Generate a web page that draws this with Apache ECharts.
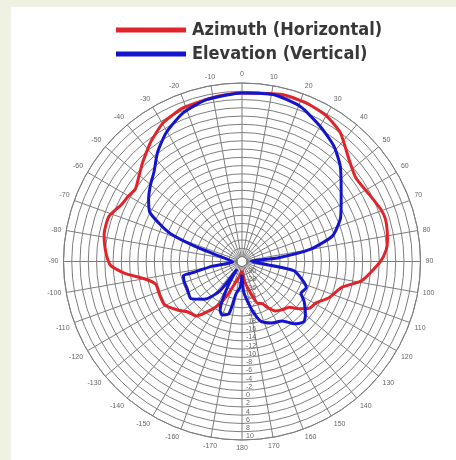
<!DOCTYPE html>
<html>
<head>
<meta charset="utf-8">
<script src="https://cdn.jsdelivr.net/npm/echarts@6/dist/echarts.min.js"></script>
<style>
html,body{margin:0;padding:0;width:456px;height:460px;background:#eff2e3;overflow:hidden;}
#panel{position:absolute;left:11px;top:7px;right:0;bottom:0;background:#ffffff;}
#chart{position:absolute;left:0;top:0;width:456px;height:460px;}
</style>
</head>
<body>
<div id="panel"></div>
<div id="chart"></div>
<script>
// Series names (legend)
var seriesNames = ['Azimuth (Horizontal)', 'Elevation (Vertical)'];

// Azimuth (Horizontal) pattern: angle in degrees (0 = top, clockwise positive), gain in dB
var azimuthAngles = [-180,-170,-163,-157,-152,-147.6,-140,-133,-127,-119,-111.6,-104.6,-100,-95.8,-91.5,-85.1,-79,-71.3,-64.5,-59.9,-55.8,-50.3,-45.1,-40,-37,-29.7,-21,-8.7,0,13.9,22.2,30.3,37.4,46.3,53.6,62.2,69.5,73.8,81.5,85.4,90,99,104.4,112.6,119.4,124.9,129.6,134.2,140,146.2,151,155,159,166,173,180];
var azimuthDb     = [-31,-29.5,-28,-24.7,-21.5,-19.4,-16,-15.3,-13.7,-11.7,-11.7,-11.6,-9.2,-4.7,-1.3,0,0.8,0.8,-1.0,-1.5,-2.0,-0.8,0.75,2.3,3.3,5.4,6.6,7.2,7.6,8.4,8.2,7.5,6.0,2.6,1.0,1.6,2.7,3.0,2.4,1.8,0.3,-3.8,-8.2,-10.4,-12.7,-13.4,-15.3,-17.3,-18,-18.8,-20.5,-22,-22.3,-25.9,-28.5,-31];

// Elevation (Vertical) pattern
var elevationAngles = [-180,-176,-169.5,-166,-159.6,-155.8,-152.5,-149,-147,-143.4,-139,-134.9,-125.9,-120,-115.8,-110,-103.7,-102.7,-99,-92,-76,-72,-69,-66,-61.9,-56.2,-50,-44.6,-37.7,-30.4,-21.6,-12.3,0,10.6,20.5,30,38.5,45.7,53.9,60,66.7,74.3,79.9,84.2,89,97,100,107.7,112.3,118.2,122.8,130.2,134.4,139.6,146.2,154.4,162.4,166.9,172.4,177,180];
var elevationDb     = [-30,-27,-25.2,-20.2,-19.4,-20.3,-23.5,-28,-31,-24.6,-22,-20.3,-17.9,-18.2,-18.4,-18.4,-18.6,-21.1,-26,-31,-27,-21,-15,-11.8,-7.9,-6.0,-4.3,-2.85,0.2,3.0,5.5,6.9,7.6,7.9,6.9,4.6,2.5,0,-3.5,-5.5,-7.3,-10.5,-16.5,-24.6,-31,-27,-20.5,-17.7,-16.4,-17.0,-15.3,-13.1,-12.3,-13.4,-15.9,-16.7,-18,-20.3,-23.6,-26,-30];

// Radial scale (dB)
var radiusMin = -32, radiusMax = 10, radiusStep = 2;
var angleStep = 10;

function toPolar(angles, db) {
  return angles.map(function (a, i) { return [db[i], a + 180]; });
}

var chart = echarts.init(document.getElementById('chart'), null, {renderer: 'canvas'});
var gridColor = '#7d7d7d';
chart.setOption({
  backgroundColor: 'transparent',
  animation: false,
  legend: {
    orient: 'vertical',
    left: 111,
    top: 16,
    itemWidth: 70,
    itemHeight: 5,
    itemGap: 6,
    icon: 'rect',
    textStyle: {
      fontFamily: '"DejaVu Sans Condensed", "Liberation Sans Narrow", sans-serif',
      fontWeight: 'bold',
      fontSize: 18,
      color: '#383838',
      padding: [0, 0, 0, 1]
    },
    data: seriesNames
  },
  polar: {
    center: [242, 261.5],
    radius: [5, 178.5]
  },
  angleAxis: {
    type: 'value',
    min: 0,
    max: 360,
    interval: angleStep,
    startAngle: -90,
    clockwise: true,
    axisLine: {show: true, lineStyle: {color: gridColor, width: 1}},
    axisTick: {show: false},
    splitLine: {show: true, lineStyle: {color: gridColor, width: 1}},
    axisLabel: {
      margin: 5,
      fontSize: 7,
      fontFamily: 'Liberation Sans, Arial, sans-serif',
      color: '#666',
      formatter: function (v) {
        if (v >= 360) return '';
        var t = v - 180;
        return t === -180 ? '180' : String(t);
      }
    }
  },
  radiusAxis: {
    type: 'value',
    min: radiusMin,
    max: radiusMax,
    interval: radiusStep,
    axisLine: {show: false},
    axisTick: {show: false},
    splitLine: {show: true, lineStyle: {color: gridColor, width: 1}},
    axisLabel: {
      fontSize: 7,
      margin: 4,
      verticalAlign: 'bottom',
      fontFamily: 'Liberation Sans, Arial, sans-serif',
      color: '#666',
      formatter: function (v) { return v <= radiusMin ? '' : String(v); }
    }
  },
  series: [
    {
      name: seriesNames[0],
      type: 'line',
      coordinateSystem: 'polar',
      showSymbol: false,
      smooth: 0.2,
      lineStyle: {color: '#e0242a', width: 3},
      itemStyle: {color: '#e0242a'},
      data: toPolar(azimuthAngles, azimuthDb)
    },
    {
      name: seriesNames[1],
      type: 'line',
      coordinateSystem: 'polar',
      showSymbol: false,
      smooth: 0.2,
      lineStyle: {color: '#1414cc', width: 3},
      itemStyle: {color: '#1414cc'},
      data: toPolar(elevationAngles, elevationDb)
    }
  ]
});
</script>
</body>
</html>
